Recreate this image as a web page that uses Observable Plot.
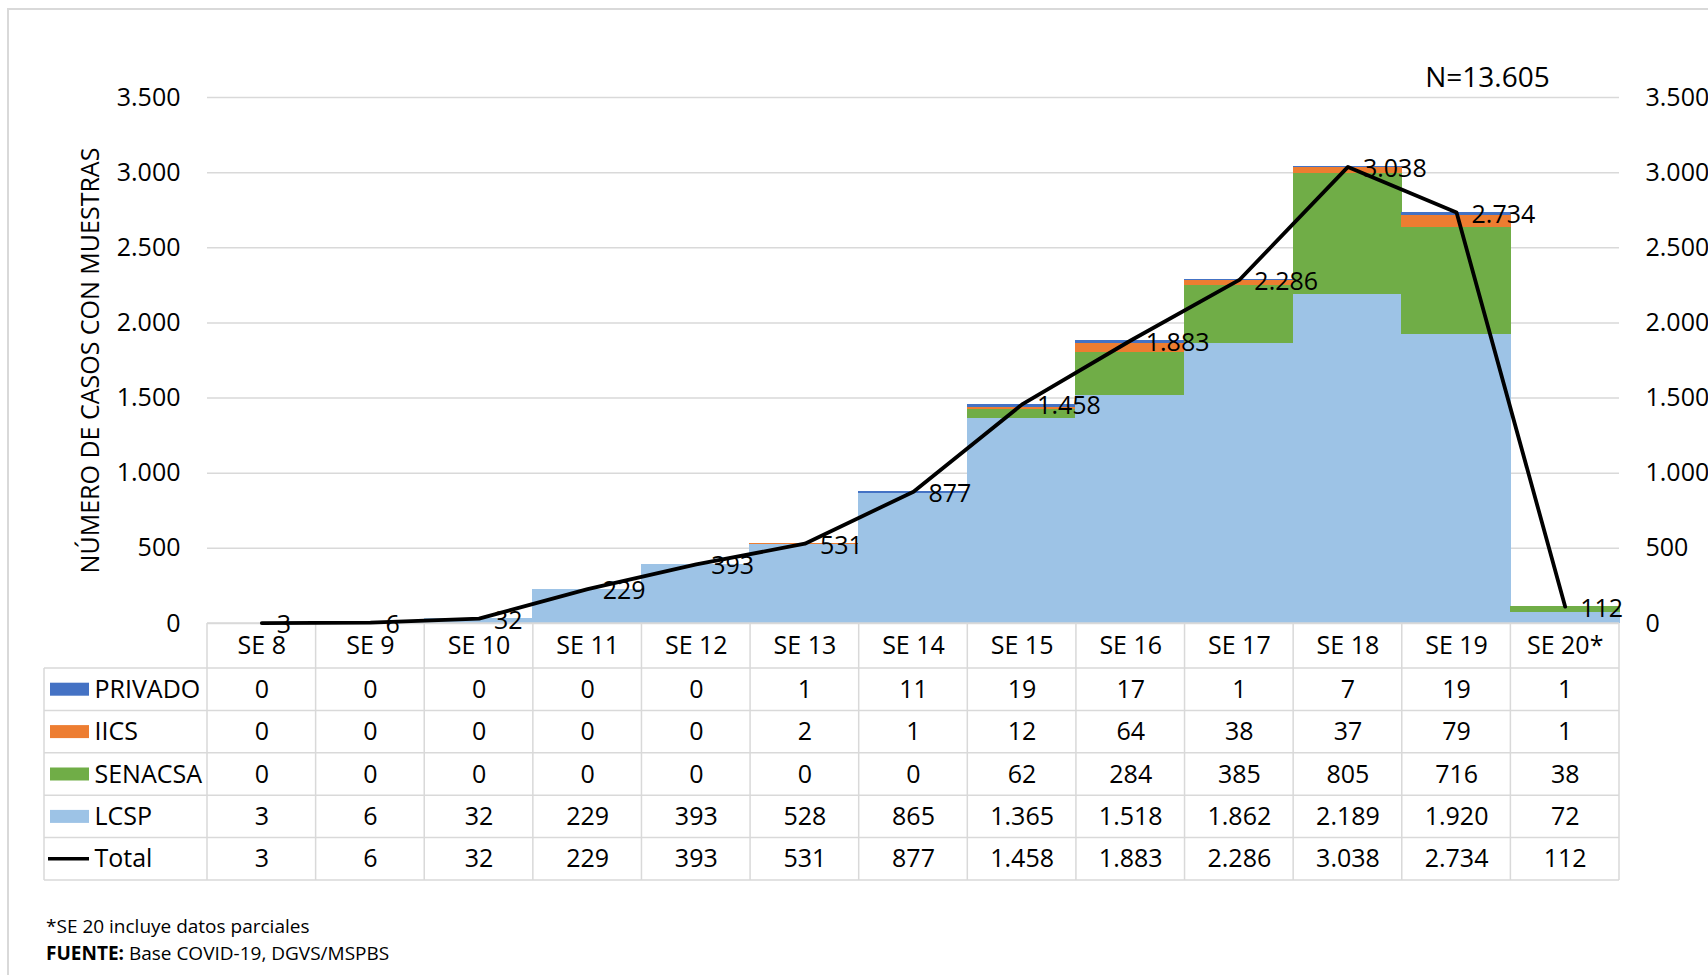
<!DOCTYPE html>
<html><head><meta charset="utf-8">
<script src="https://cdn.jsdelivr.net/npm/d3@7"></script>
<script src="https://cdn.jsdelivr.net/npm/@observablehq/plot@0.6"></script>
<style>
html,body{margin:0;padding:0;background:#fff;overflow:hidden;width:1708px;height:975px;}
#chart{position:absolute;left:0;top:0;}
#frame{position:absolute;left:7px;top:8px;width:1800px;height:1100px;border:2px solid #d9d9d9;pointer-events:none;}
.note{position:absolute;left:46px;font-family:"Open Sans";font-size:19px;color:#000;white-space:nowrap;line-height:26px;}
</style></head><body>
<div id="chart"></div>
<div class="note" style="top:913px">*SE 20 incluye datos parciales</div>
<div class="note" style="top:940px"><b>FUENTE:</b> Base COVID-19, DGVS/MSPBS</div>
<div id="frame"></div>
<script>
const weeks = ["SE 8","SE 9","SE 10","SE 11","SE 12","SE 13","SE 14","SE 15","SE 16","SE 17","SE 18","SE 19","SE 20*"];
const privado = [0,0,0,0,0,1,11,19,17,1,7,19,1];
const iics    = [0,0,0,0,0,2,1,12,64,38,37,79,1];
const senacsa = [0,0,0,0,0,0,0,62,284,385,805,716,38];
const lcsp    = [3,6,32,229,393,528,865,1365,1518,1862,2189,1920,72];
const total   = [3,6,32,229,393,531,877,1458,1883,2286,3038,2734,112];
const yTicks  = [0,500,1000,1500,2000,2500,3000,3500];
const seriesNames  = ["PRIVADO","IICS","SENACSA","LCSP"];
const seriesColors = ["#4472c4","#ed7d31","#70ad47","#9dc3e6"];
const nLabel = "N=13.605";
const yTitle = "NÚMERO DE CASOS CON MUESTRAS";

const fmt = d3.formatLocale({decimal:",", thousands:".", grouping:[3], currency:["",""]}).format(",d");

// stacked data: bottom to top LCSP, SENACSA, IICS, PRIVADO
const seriesValues = {PRIVADO: privado, IICS: iics, SENACSA: senacsa, LCSP: lcsp};
const stackOrder = ["LCSP","SENACSA","IICS","PRIVADO"];
const barData = [];
weeks.forEach((w, i) => stackOrder.forEach(s => barData.push({week: w, series: s, value: seriesValues[s][i]})));
const totalData = weeks.map((w, i) => ({week: w, total: total[i]}));

// table layout (pixels)
const TABLE_LEFT = 44;
const HEADER_H = 45;
const ROW_H = 42.4;
const tableRows = [
  {label: "PRIVADO", values: privado, color: seriesColors[0]},
  {label: "IICS", values: iics, color: seriesColors[1]},
  {label: "SENACSA", values: senacsa, color: seriesColors[2]},
  {label: "LCSP", values: lcsp, color: seriesColors[3]},
  {label: "Total", values: total, color: null}
];

function tableGrid(index, scales, values, dims) {
  const x = scales.x, bw = x.bandwidth();
  const xL = dims.marginLeft, xR = dims.width - dims.marginRight;
  const y0 = dims.height - dims.marginBottom;
  const yH = y0 + HEADER_H;
  const yB = yH + ROW_H * tableRows.length;
  const g = d3.create("svg:g");
  const lines = g.append("g").attr("stroke", "#d9d9d9").attr("stroke-width", 1.5);
  lines.append("line").attr("x1", xL).attr("x2", xR).attr("y1", y0).attr("y2", y0);
  for (let r = 0; r <= tableRows.length; r++) {
    const yy = yH + r * ROW_H;
    lines.append("line").attr("x1", TABLE_LEFT).attr("x2", xR).attr("y1", yy).attr("y2", yy);
  }
  lines.append("line").attr("x1", TABLE_LEFT).attr("x2", TABLE_LEFT).attr("y1", yH).attr("y2", yB);
  const dom = x.domain();
  const edges = dom.map(w => x(w)).concat([x(dom[dom.length - 1]) + bw]);
  edges.forEach(ex => lines.append("line").attr("x1", ex).attr("x2", ex).attr("y1", y0).attr("y2", yB));
  tableRows.forEach((row, r) => {
    const cy = yH + (r + 0.5) * ROW_H;
    if (row.color) {
      g.append("rect").attr("x", 50).attr("y", cy - 6.5).attr("width", 39).attr("height", 13).attr("fill", row.color);
    } else {
      g.append("line").attr("x1", 48).attr("x2", 89).attr("y1", cy).attr("y2", cy).attr("stroke", "#000").attr("stroke-width", 3.5);
    }
  });
  return g.node();
}

const marks = [
  Plot.gridY(yTicks, {stroke: "#d9d9d9", strokeOpacity: 1, strokeWidth: 1.5}),
  Plot.barY(barData, {x: "week", y: "value", fill: "series", order: stackOrder, insetLeft: -0.6, insetRight: -0.6, shapeRendering: "crispEdges"}),
  tableGrid,
  Plot.line(totalData, {x: "week", y: "total", stroke: "#000", strokeWidth: 3.8}),
  Plot.text(totalData, {x: "week", y: "total", text: d => fmt(d.total), textAnchor: "start", lineAnchor: "middle", dx: 15, dy: 2, fontSize: 25}),
  Plot.axisY(yTicks, {anchor: "left", tickSize: 0, tickPadding: 27, tickFormat: fmt, fontSize: 25, label: null}),
  Plot.axisY(yTicks, {anchor: "right", tickSize: 0, tickPadding: 26, tickFormat: fmt, fontSize: 25, label: null}),
  Plot.text([yTitle], {frameAnchor: "left", dx: -117, rotate: -90, textAnchor: "middle", lineAnchor: "middle", fontSize: 25}),
  Plot.text([nLabel], {frameAnchor: "top-right", dx: -132, dy: -19, textAnchor: "middle", lineAnchor: "middle", fontSize: 28}),
  Plot.text(weeks, {x: d => d, text: d => d, frameAnchor: "bottom", lineAnchor: "middle", dy: HEADER_H / 2, fontSize: 25})
];
tableRows.forEach((row, r) => {
  const dy = HEADER_H + (r + 0.5) * ROW_H;
  marks.push(Plot.text(weeks, {x: d => d, text: (d, i) => fmt(row.values[i]), frameAnchor: "bottom", lineAnchor: "middle", dy, fontSize: 25}));
  marks.push(Plot.text([row.label], {frameAnchor: "bottom-left", dx: 94 - 207, dy, textAnchor: "start", lineAnchor: "middle", fontSize: 25}));
});

const chart = Plot.plot({
  width: 1708,
  height: 895,
  marginLeft: 207,
  marginRight: 89,
  marginTop: 97,
  marginBottom: 272,
  style: {fontFamily: "Open Sans", fontSize: "25px", color: "#000", background: "transparent", overflow: "visible"},
  x: {domain: weeks, padding: 0, round: false, axis: null},
  y: {domain: [0, 3500], axis: null, label: null},
  color: {domain: seriesNames, range: seriesColors, legend: false},
  marks
});
document.getElementById("chart").appendChild(chart);
</script>
</body></html>
